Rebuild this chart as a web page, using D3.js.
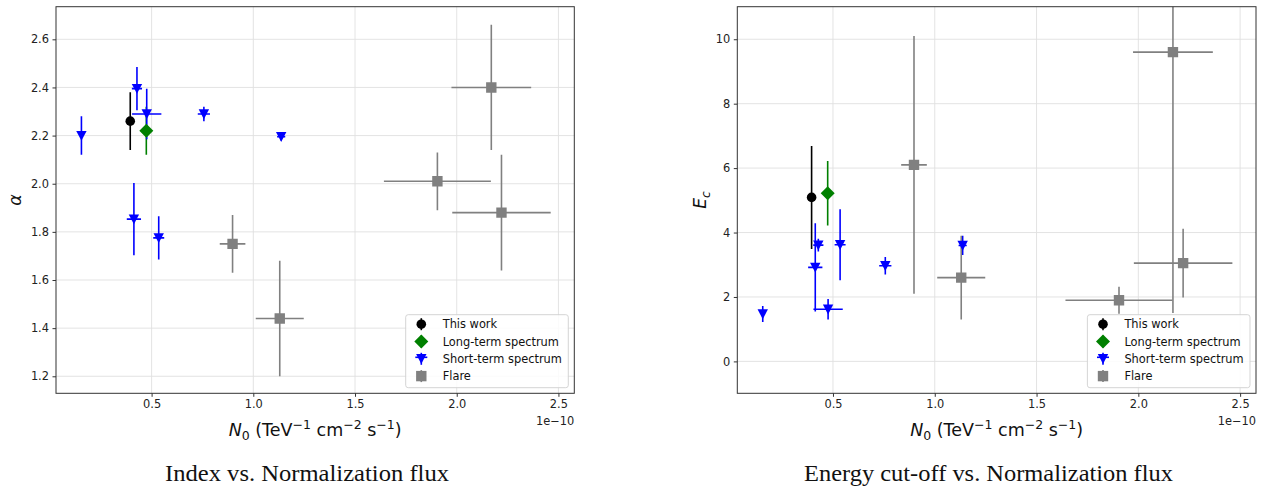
<!DOCTYPE html>
<html><head><meta charset="utf-8">
<script src="https://cdn.jsdelivr.net/npm/d3@7"></script>
<style>body{margin:0;background:#fff}svg{display:block}</style>
</head><body>
<script>
// ---- data (N0 in units of 1e-10 TeV^-1 cm^-2 s^-1) ----
const thisWorkN0 = [0.395];
const thisWorkN0Err = [0];
const thisWorkAlpha = [2.26];
const thisWorkAlphaErr = [0.12];
const thisWorkEc = [5.09];
const thisWorkEcErr = [1.6];

const longN0 = [0.474];
const longN0Err = [0];
const longAlpha = [2.22];
const longAlphaErr = [0.10];
const longEc = [5.22];
const longEcErr = [1.0];

const shortN0 = [0.155, 0.428, 0.476, 0.757, 1.137, 0.413, 0.535];
const shortN0Err = [0.005, 0.025, 0.072, 0.03, 0.02, 0.035, 0.027];
const shortAlpha = [2.20, 2.395, 2.29, 2.29, 2.195, 1.853, 1.775];
const shortAlphaErr = [0.08, 0.09, 0.105, 0.03, 0.015, 0.15, 0.09];
const shortEc = [1.47, 3.61, 1.62, 2.97, 3.60, 2.92, 3.62];
const shortEcErr = [0.25, 0.2, 0.32, 0.27, 0.3, 1.37, 1.1];

const flareN0 = [0.898, 1.13, 2.17, 1.905, 2.22];
const flareN0Err = [0.063, 0.118, 0.196, 0.263, 0.242];
const flareAlpha = [1.75, 1.44, 2.40, 2.01, 1.88];
const flareAlphaErr = [0.12, 0.24, 0.26, 0.12, 0.24];
const flareEc = [6.1, 2.6, 9.6, 1.9, 3.05];
const flareEcErr = [4.0, 1.3, 8.1, 0.42, 1.07];

const seriesNames = ["This work", "Long-term spectrum", "Short-term spectrum", "Flare"];
const xTicks = [0.5, 1.0, 1.5, 2.0, 2.5];
const alphaTicks = [1.2, 1.4, 1.6, 1.8, 2.0, 2.2, 2.4, 2.6];
const ecTicks = [0, 2, 4, 6, 8, 10];
const captions = ["Index vs. Normalization flux", "Energy cut-off vs. Normalization flux"];

// ---- build series ----
function mk(n0, n0e, a, ae, ec, ece) {
  return n0.map((d, i) => ({x: d, xe: n0e[i], alpha: a[i], alphaErr: ae[i], ec: ec[i], ecErr: ece[i]}));
}
const series = [
  {name: seriesNames[0], color: "#000000", shape: "circle", data: mk(thisWorkN0, thisWorkN0Err, thisWorkAlpha, thisWorkAlphaErr, thisWorkEc, thisWorkEcErr)},
  {name: seriesNames[1], color: "#008000", shape: "diamond", data: mk(longN0, longN0Err, longAlpha, longAlphaErr, longEc, longEcErr)},
  {name: seriesNames[2], color: "#0000ff", shape: "tri", data: mk(shortN0, shortN0Err, shortAlpha, shortAlphaErr, shortEc, shortEcErr)},
  {name: seriesNames[3], color: "#808080", shape: "square", data: mk(flareN0, flareN0Err, flareAlpha, flareAlphaErr, flareEc, flareEcErr)}
];

function shapePath(shape) {
  if (shape === "circle") { const r = 4.8; return `M${r},0A${r},${r} 0 1,1 ${-r},0A${r},${r} 0 1,1 ${r},0Z`; }
  if (shape === "diamond") { const h = 7; return `M0,${-h}L${h},0L0,${h}L${-h},0Z`; }
  if (shape === "tri") { const h = 5.2; return `M${-h},${-h + 0.5}L${h},${-h + 0.5}L0,${h}Z`; }
  const s = 5.2; return `M${-s},${-s}H${s}V${s}H${-s}Z`;
}

const W = 1265, H = 489;
const svg = d3.select("body").append("svg").attr("width", W).attr("height", H)
  .style("font-family", "'DejaVu Sans', sans-serif");

const panels = [
  {left: 56, right: 574.3, top: 6.7, bottom: 393.3, key: "alpha", errKey: "alphaErr", yDomain: [1.1293, 2.7355], yTicks: alphaTicks, fmt: d3.format(".1f"), ylab: "alpha", capX: 307, capW: 284},
  {left: 737.3, right: 1256, top: 6.7, bottom: 393.3, key: "ec", errKey: "ecErr", yDomain: [-0.99, 11.01], yTicks: ecTicks, fmt: d3.format("d"), ylab: "ec", capX: 988.5, capW: 369}
];

panels.forEach((p, pi) => {
  const x = d3.scaleLinear().domain([0.03, 2.578]).range([p.left, p.right]);
  const y = d3.scaleLinear().domain(p.yDomain).range([p.bottom, p.top]);
  const g = svg.append("g");

  // grid
  g.append("g").selectAll("line").data(xTicks).join("line")
    .attr("x1", d => x(d)).attr("x2", d => x(d)).attr("y1", p.top).attr("y2", p.bottom)
    .attr("stroke", "#e0e0e0").attr("stroke-width", 0.9);
  g.append("g").selectAll("line").data(p.yTicks).join("line")
    .attr("y1", d => y(d)).attr("y2", d => y(d)).attr("x1", p.left).attr("x2", p.right)
    .attr("stroke", "#e0e0e0").attr("stroke-width", 0.9);

  // clip
  const cid = "clip" + pi;
  g.append("clipPath").attr("id", cid).append("rect")
    .attr("x", p.left).attr("y", p.top).attr("width", p.right - p.left).attr("height", p.bottom - p.top);
  const plot = g.append("g").attr("clip-path", `url(#${cid})`);

  // error bars
  series.forEach(s => {
    const eg = plot.append("g").attr("stroke", s.color).attr("stroke-width", 1.6);
    eg.selectAll("line.v").data(s.data).join("line").attr("class", "v")
      .attr("x1", d => x(d.x)).attr("x2", d => x(d.x))
      .attr("y1", d => y(d[p.key] - d[p.errKey])).attr("y2", d => y(d[p.key] + d[p.errKey]));
    eg.selectAll("line.h").data(s.data.filter(d => d.xe > 0)).join("line").attr("class", "h")
      .attr("y1", d => y(d[p.key])).attr("y2", d => y(d[p.key]))
      .attr("x1", d => x(d.x - d.xe)).attr("x2", d => x(d.x + d.xe));
  });
  // markers
  series.forEach(s => {
    plot.append("g").selectAll("path").data(s.data).join("path")
      .attr("d", shapePath(s.shape)).attr("fill", s.color)
      .attr("transform", d => `translate(${x(d.x)},${y(d[p.key])})`);
  });

  // spines
  g.append("rect").attr("x", p.left).attr("y", p.top).attr("width", p.right - p.left).attr("height", p.bottom - p.top)
    .attr("fill", "none").attr("stroke", "#333").attr("stroke-width", 1);

  // axes
  const xa = g.append("g").attr("transform", `translate(0,${p.bottom})`)
    .call(d3.axisBottom(x).tickValues(xTicks).tickFormat(d3.format(".1f")).tickSize(3.5).tickPadding(3.5));
  const ya = g.append("g").attr("transform", `translate(${p.left},0)`)
    .call(d3.axisLeft(y).tickValues(p.yTicks).tickFormat(p.fmt).tickSize(3.5).tickPadding(3.5));
  [xa, ya].forEach(a => {
    a.select(".domain").remove();
    a.selectAll("line").attr("stroke", "#333");
    a.selectAll("text").attr("font-size", 11.4).attr("fill", "#222").attr("font-family", "'DejaVu Sans', sans-serif");
  });

  // offset text
  g.append("text").attr("x", p.right).attr("y", p.bottom + 31.5).attr("text-anchor", "end")
    .attr("font-size", 11.4).attr("fill", "#222").text("1e\u221210");

  // x label
  const xl = g.append("text").attr("x", (p.left + p.right) / 2).attr("y", p.bottom + 43)
    .attr("text-anchor", "middle").attr("font-size", 17.5).attr("fill", "#111");
  xl.append("tspan").attr("font-style", "italic").text("N");
  xl.append("tspan").attr("font-size", 12.5).attr("dy", 3.2).text("0");
  xl.append("tspan").attr("dy", -3.2).text(" (TeV");
  xl.append("tspan").attr("font-size", 12.5).attr("dy", -7).text("\u22121");
  xl.append("tspan").attr("dy", 7).text(" cm");
  xl.append("tspan").attr("font-size", 12.5).attr("dy", -7).text("\u22122");
  xl.append("tspan").attr("dy", 7).text(" s");
  xl.append("tspan").attr("font-size", 12.5).attr("dy", -7).text("\u22121");
  xl.append("tspan").attr("dy", 7).text(")");

  // y label
  const yc = (p.top + p.bottom) / 2;
  if (p.ylab === "alpha") {
    g.append("text").attr("transform", `translate(${p.left - 35},${yc}) rotate(-90)`)
      .attr("text-anchor", "middle").attr("font-size", 17.5).attr("font-style", "italic").attr("fill", "#111").text("\u03b1");
  } else {
    const t = g.append("text").attr("transform", `translate(${p.left - 31},${yc}) rotate(-90)`)
      .attr("text-anchor", "middle").attr("font-size", 17).attr("font-style", "italic").attr("fill", "#111");
    t.append("tspan").text("E");
    t.append("tspan").attr("font-size", 12).attr("dy", 3.2).text("c");
  }

  // legend
  const lw = 162.6, lh = 73, lx = p.right - 6 - lw, ly = p.bottom - 5.6 - lh;
  const lg = g.append("g");
  lg.append("rect").attr("x", lx).attr("y", ly).attr("width", lw).attr("height", lh).attr("rx", 2.5)
    .attr("fill", "#fff").attr("fill-opacity", 0.85).attr("stroke", "#d0d0d0").attr("stroke-width", 0.9);
  series.forEach((s, i) => {
    const cy = ly + 9.5 + i * 17.3, cx = lx + 15.6;
    const e = lg.append("g").attr("stroke", s.color).attr("stroke-width", 1.6);
    e.append("line").attr("x1", cx).attr("x2", cx).attr("y1", cy - 6).attr("y2", cy + 6);
    if (s.shape === "tri") e.append("line").attr("x1", cx - 6).attr("x2", cx + 6).attr("y1", cy - 1.5).attr("y2", cy - 1.5);
    lg.append("path").attr("d", shapePath(s.shape)).attr("fill", s.color).attr("transform", `translate(${cx},${cy})`);
    lg.append("text").attr("x", lx + 37).attr("y", cy + 4.2).attr("font-size", 11.4).attr("fill", "#111").text(s.name);
  });

  // caption
  svg.append("text").attr("x", p.capX).attr("y", 481).attr("text-anchor", "middle")
    .attr("font-family", "'Liberation Serif', 'DejaVu Serif', serif").attr("font-size", 22.5).attr("fill", "#111")
    .attr("textLength", p.capW).attr("lengthAdjust", "spacingAndGlyphs")
    .text(captions[pi]);
});
</script>
</body></html>
